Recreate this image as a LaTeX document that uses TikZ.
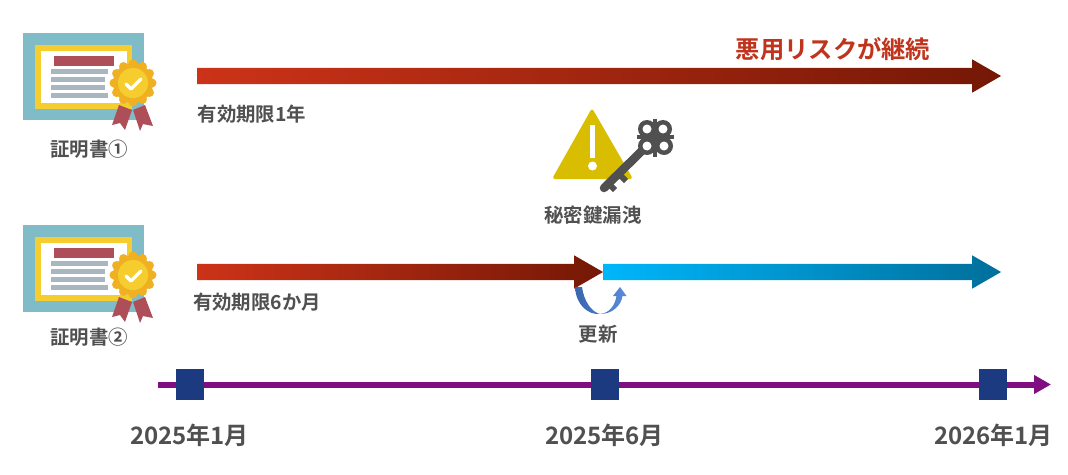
\documentclass[tikz,border=0pt]{standalone}
\usepackage{fontspec}
\setmainfont{Noto Sans CJK JP}[BoldFont={* Bold}]
\usetikzlibrary{shapes.arrows,arrows.meta}

\definecolor{labelgray}{HTML}{505050}
\definecolor{riskred}{HTML}{C0341D}
\definecolor{redstart}{HTML}{CC3318}
\definecolor{redend}{HTML}{741806}
\definecolor{bluestart}{HTML}{00B6FA}
\definecolor{blueend}{HTML}{006F9B}
\definecolor{certblue}{HTML}{80BCC8}
\definecolor{certyellow}{HTML}{F6CD2E}
\definecolor{certred}{HTML}{AE4E59}
\definecolor{certgray}{HTML}{A8B6BF}
\definecolor{medalgold}{HTML}{EFB122}
\definecolor{warnyellow}{HTML}{D8BD00}
\definecolor{timepurple}{HTML}{7F0F80}
\definecolor{timeblue}{HTML}{1B3A7F}
\definecolor{renewdark}{HTML}{3A66AE}
\definecolor{renewlight}{HTML}{5B8BDD}

\tikzset{
  label14/.style={font=\fontsize{19.4}{21}\selectfont\bfseries, text=labelgray, inner sep=0pt},
  datelabel/.style={font=\fontsize{24}{26}\selectfont\bfseries, text=labelgray, inner sep=0pt},
  termarrow/.style={single arrow, anchor=west, inner xsep=0pt, inner ysep=8pt, outer sep=0pt,
    minimum width=33pt, single arrow head extend=8.5pt, single arrow head indent=0pt, single arrow tip angle=60},
  redarrow/.style={termarrow, left color=redstart, right color=redend},
  bluearrow/.style={termarrow, left color=bluestart, right color=blueend},
  monthmark/.style={draw=none, fill=timeblue, minimum width=28pt, minimum height=31pt, inner sep=0pt, outer sep=0pt},
  certificate/.pic={
    \fill[certblue] (23,33) rectangle (144,120);
    \fill[certyellow] (35,45) rectangle (132,109);
    \fill[white] (41,51) rectangle (127,103);
    \fill[certred] (54,56) rectangle (114,66);
    \fill[certgray] (51,69) rectangle (108,74);
    \fill[certgray] (51,77) rectangle (105,82);
    \fill[certgray] (51,85) rectangle (105,90);
    \fill[certgray] (51,93) rectangle (108,98);
    \fill[certred] (119,105) -- (132,110) -- (125,130) -- (120,123) -- (112,125) -- cycle;
    \fill[certred] (133,110) -- (145,105) -- (153,126) -- (143,124) -- (140,131) -- cycle;
    \foreach \a in {0,30,...,330} {
      \fill[medalgold] (133,83) ++(\a:19) circle (4.5);
    }
    \fill[medalgold] (133,83) circle (20);
    \fill[certyellow] (133,83) circle (15);
    \draw[white, line width=3.2pt, line cap=round, line join=round] (126,84) -- (131,89) -- (141,79);
  }
}

\begin{document}
\begin{tikzpicture}[x=1pt,y=-1pt]
  \useasboundingbox (0,0) rectangle (1068,474);

  % certificates
  \pic at (0,0) {certificate};
  \pic at (0,192) {certificate};
  \node[label14] (cert1) at (89,149) {証明書①};
  \node[label14] (cert2) at (89,337) {証明書②};

  % validity arrows
  \node[redarrow, minimum height=804pt] (term1) at (197,76) {};
  \node[redarrow, minimum height=406pt] (term2) at (197,272) {};
  \node[bluearrow, minimum height=398pt] (term3) at (603,272) {};

  \node[font=\fontsize{24.3}{26}\selectfont\bfseries, text=riskred, inner sep=0pt] (risk) at (833,49) {悪用リスクが継続};
  \node[label14] (year1) at (252,114) {有効期限1年};
  \node[label14] (month6) at (257,302) {有効期限6か月};

  % warning triangle
  \fill[warnyellow, rounded corners=3pt] (592,108) -- (633,179) -- (552,179) -- cycle;
  \fill[white] (590,125) rectangle (595,158);
  \fill[white] (592.5,166) circle (4.5);

  % key
  \begin{scope}[labelgray]
    \draw[line width=8.5pt, line cap=round] (604,188) -- (655,138);
    \draw[line width=6pt] (607,182) -- (615,190);
    \draw[line width=6pt] (617,172) -- (626,181);
    \draw[line width=4pt] (655,118.5) -- (655,157);
    \draw[line width=4pt] (636.5,137) -- (674,137);
    \foreach \px/\py in {647/129,663/129,647/146,664/146} {
      \fill (\px,\py) circle (9);
    }
    \foreach \px/\py in {647/129,663/129,647/146,664/146} {
      \fill[white] (\px,\py) circle (4.5);
    }
  \end{scope}
  \node[label14] (leak) at (593,215) {秘密鍵漏洩};

  % renewal
  \shade[left color=renewdark, right color=renewlight]
    (575,287) .. controls (576,305) and (588,315) .. (600,314)
    .. controls (610,313) and (615,305) .. (616.5,296) -- (613,296) -- (620,287) -- (626.5,296) -- (622.5,296)
    .. controls (621,306) and (612,314) .. (600,314)
    .. controls (592,312) and (584,302) .. (582,287) -- cycle;
  \node[label14] (renew) at (598,334) {更新};

  % timeline
  \coordinate (tstart) at (158,384.5);
  \coordinate (tend) at (1051,384.5);
  \draw[timepurple, line width=6pt, -{Triangle[length=17pt,width=18pt]}] (tstart) -- (tend);
  \node[monthmark] (m1) at (190,384.5) {};
  \node[monthmark] (m2) at (605,384.5) {};
  \node[monthmark] (m3) at (993,384.5) {};

  \node[datelabel] (d1) at (189.5,435) {2025年1月};
  \node[datelabel] (d2) at (604.5,435) {2025年6月};
  \node[datelabel] (d3) at (993.5,435) {2026年1月};
\end{tikzpicture}
\end{document}
